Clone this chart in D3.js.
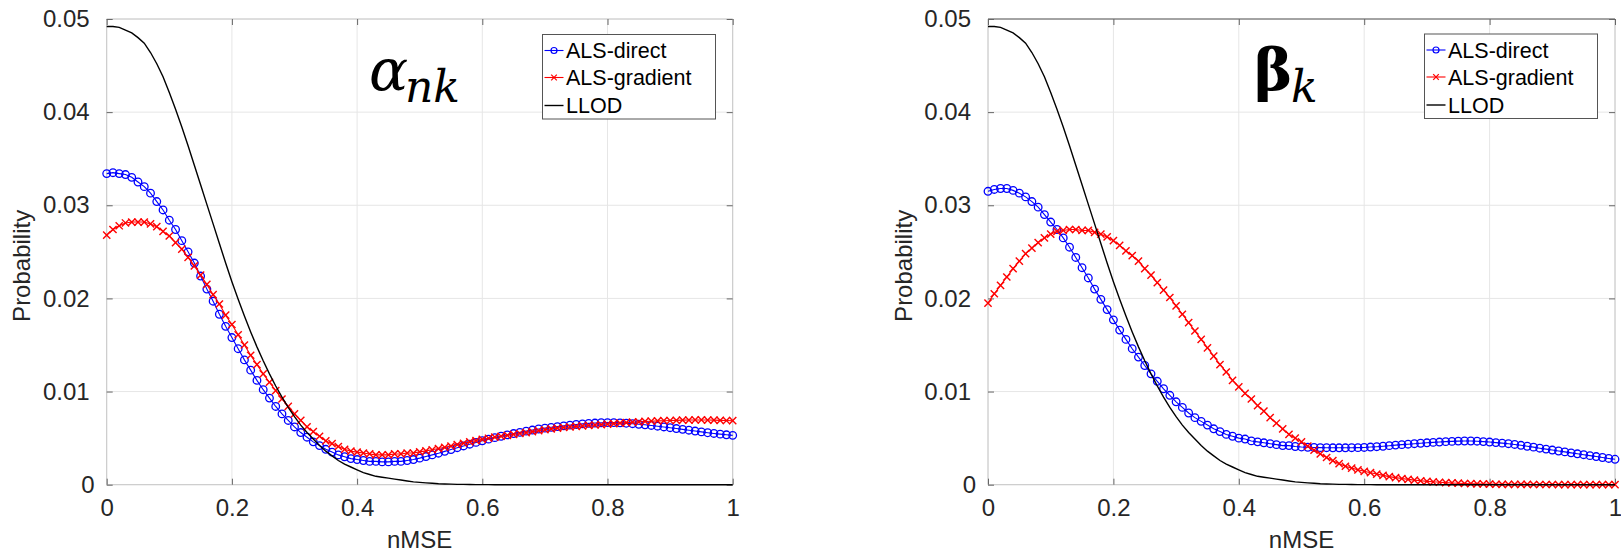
<!DOCTYPE html>
<html><head><meta charset="utf-8">
<script src="https://cdn.jsdelivr.net/npm/d3@7"></script>
<style>body{margin:0;background:#fff}svg{display:block}</style>
</head><body><svg id="c" width="1621" height="553"></svg>
<script>
const nmse = [0,0.01,0.02,0.03,0.04,0.05,0.06,0.07,0.08,0.09,
0.10,0.11,0.12,0.13,0.14,0.15,0.16,0.17,0.18,0.19,
0.20,0.21,0.22,0.23,0.24,0.25,0.26,0.27,0.28,0.29,
0.30,0.31,0.32,0.33,0.34,0.35,0.36,0.37,0.38,0.39,
0.40,0.41,0.42,0.43,0.44,0.45,0.46,0.47,0.48,0.49,
0.50,0.51,0.52,0.53,0.54,0.55,0.56,0.57,0.58,0.59,
0.60,0.61,0.62,0.63,0.64,0.65,0.66,0.67,0.68,0.69,
0.70,0.71,0.72,0.73,0.74,0.75,0.76,0.77,0.78,0.79,
0.80,0.81,0.82,0.83,0.84,0.85,0.86,0.87,0.88,0.89,
0.90,0.91,0.92,0.93,0.94,0.95,0.96,0.97,0.98,0.99,1.00];

const alphaDirect = [0.0334,0.0335,0.0334,0.0333,0.0330,0.0325,0.0320,0.0313,0.0304,0.0295,
0.0284,0.0274,0.0262,0.0250,0.0238,0.0224,0.0210,0.0197,0.0183,0.0170,
0.0158,0.0146,0.0134,0.0123,0.0112,0.0102,0.0093,0.0084,0.0076,0.0069,
0.0062,0.0056,0.0051,0.0046,0.0042,0.0038,0.0035,0.0032,0.0030,0.0028,
0.0027,0.0026,0.0025,0.0025,0.00245,0.00245,0.0025,0.0025,0.0026,0.0027,
0.00285,0.00302,0.0032,0.00338,0.00358,0.00378,0.00397,0.00416,0.00435,0.00454,
0.00472,0.00489,0.00505,0.0052,0.00535,0.00549,0.00562,0.00575,0.00587,0.00598,
0.00607,0.00616,0.00624,0.00632,0.0064,0.00647,0.00653,0.00658,0.00662,0.00665,
0.00666,0.00666,0.00664,0.0066,0.00655,0.00649,0.00643,0.00636,0.00628,0.0062,
0.00612,0.00603,0.00594,0.00585,0.00576,0.00567,0.00558,0.0055,0.00543,0.00536,0.0053];

const alphaGradient = [0.0268,0.0274,0.0278,0.0281,0.0282,0.0282,0.0282,0.0280,0.0277,0.0272,
0.0267,0.0260,0.0253,0.0244,0.0235,0.0225,0.0215,0.0204,0.0194,0.0182,
0.0172,0.0161,0.0150,0.0139,0.0129,0.0119,0.0110,0.0101,0.0092,0.0084,
0.0076,0.0069,0.0062,0.0057,0.0052,0.0047,0.0044,0.0041,0.0038,0.0036,
0.0035,0.0034,0.0033,0.0032,0.0032,0.0032,0.0033,0.0033,0.0034,0.0034,
0.00352,0.00363,0.00375,0.00388,0.00401,0.00415,0.0043,0.00445,0.0046,0.00474,
0.00487,0.00499,0.0051,0.0052,0.0053,0.0054,0.0055,0.0056,0.0057,0.0058,
0.0059,0.00599,0.00607,0.00614,0.0062,0.00626,0.00631,0.00636,0.00641,0.00646,
0.00651,0.00656,0.00661,0.00666,0.00671,0.00675,0.00679,0.00682,0.00685,0.00687,
0.00689,0.00691,0.00693,0.00694,0.00695,0.00695,0.00694,0.00693,0.00691,0.00689,0.00687];

const alphaLLOD = [0.0492,0.0492,0.0491,0.0488,0.0485,0.0480,0.0474,0.0464,0.0452,0.0438,
0.0421,0.0403,0.0384,0.0364,0.0343,0.0322,0.0301,0.0280,0.0259,0.0238,
0.0218,0.0199,0.0181,0.0164,0.0148,0.0133,0.0119,0.0106,0.0094,0.0083,
0.0073,0.0064,0.0056,0.0049,0.0042,0.0036,0.0031,0.0026,0.0022,0.0019,
0.0016,0.0013,0.0011,0.0009,0.0008,0.0007,0.0006,0.0005,0.0004,0.0003,
0.00025,0.0002,0.00015,0.0001,0.00008,0.00006,0.00004,0.00003,0.00002,0.00001,
0.00001,0.00001,0,0,0,0,0,0,0,0,
0,0,0,0,0,0,0,0,0,0,
0,0,0,0,0,0,0,0,0,0,
0,0,0,0,0,0,0,0,0,0,0];

const betaDirect = [0.0315,0.0317,0.0318,0.0318,0.0316,0.0313,0.0309,0.0304,0.0298,0.0290,
0.0282,0.0274,0.0265,0.0255,0.0244,0.0233,0.0222,0.0210,0.0199,0.0188,
0.0177,0.0166,0.0156,0.0146,0.0137,0.0128,0.0119,0.0111,0.0103,0.0096,
0.0089,0.0083,0.0077,0.0072,0.0068,0.0064,0.0060,0.0057,0.0054,0.0052,
0.0050,0.0049,0.0047,0.0046,0.0045,0.0044,0.0043,0.0042,0.0042,0.0041,
0.00405,0.00402,0.004,0.00398,0.00397,0.00396,0.00396,0.00396,0.00397,0.00398,
0.004,0.00404,0.00408,0.00413,0.00419,0.00425,0.0043,0.00435,0.0044,0.00445,
0.0045,0.00454,0.00458,0.00462,0.00465,0.00468,0.00469,0.00469,0.00467,0.00463,
0.00458,0.00452,0.00446,0.0044,0.00432,0.00423,0.00413,0.00403,0.00392,0.00382,
0.00372,0.00362,0.00352,0.00342,0.00332,0.00322,0.00312,0.00302,0.00292,0.00282,0.00273];

const betaGradient = [0.0195,0.0205,0.0214,0.0223,0.0232,0.0240,0.0248,0.0254,0.0260,0.0265,
0.0269,0.0272,0.0273,0.0274,0.0274,0.0273,0.0273,0.0271,0.0269,0.0266,
0.0262,0.0257,0.0251,0.0246,0.0240,0.0232,0.0225,0.0217,0.0209,0.0201,
0.0192,0.0183,0.0174,0.0165,0.0156,0.0147,0.0138,0.0129,0.0121,0.0112,
0.0105,0.0098,0.0092,0.0085,0.0079,0.0072,0.0066,0.0060,0.0054,0.0050,
0.0046,0.00415,0.00372,0.0033,0.00292,0.00258,0.00226,0.00198,0.00178,0.0016,
0.00144,0.00129,0.00114,0.001,0.00087,0.00076,0.00066,0.00057,0.00049,0.00042,
0.00036,0.00031,0.00026,0.00022,0.00019,0.00016,0.00013,0.00011,0.00009,0.00008,
0.00006,0.00005,0.00004,0.00004,0.00003,0.00003,0.00003,0.00002,0.00002,0.00002,
0.00002,0.00001,0.00001,0.00001,0.00001,0.00001,0.00001,0.00001,0.00001,0.00001,0.00001];

const betaLLOD = [0.0492,0.0492,0.0491,0.0488,0.0485,0.0480,0.0474,0.0464,0.0452,0.0438,
0.0421,0.0403,0.0384,0.0364,0.0343,0.0322,0.0301,0.0280,0.0259,0.0238,
0.0218,0.0199,0.0181,0.0164,0.0148,0.0133,0.0119,0.0106,0.0094,0.0083,
0.0073,0.0064,0.0056,0.0049,0.0042,0.0036,0.0031,0.0026,0.0022,0.0019,
0.0016,0.0013,0.0011,0.0009,0.0008,0.0007,0.0006,0.0005,0.0004,0.0003,
0.00025,0.0002,0.00015,0.0001,0.00008,0.00006,0.00004,0.00003,0.00002,0.00001,
0.00001,0.00001,0,0,0,0,0,0,0,0,
0,0,0,0,0,0,0,0,0,0,
0,0,0,0,0,0,0,0,0,0,
0,0,0,0,0,0,0,0,0,0,0];

const seriesNames = ["ALS-direct","ALS-gradient","LLOD"];
const xTickValues = [0,0.2,0.4,0.6,0.8,1];
const xTickLabels = ["0","0.2","0.4","0.6","0.8","1"];
const yTickValues = [0,0.01,0.02,0.03,0.04,0.05];
const yTickLabels = ["0","0.01","0.02","0.03","0.04","0.05"];
const xLabelText = "nMSE";
const yLabelText = "Probability";

const FONT = "'Liberation Sans', Arial, Helvetica, sans-serif";
const SERIF = "'DejaVu Serif', serif";
const svg = d3.select("#c");

const panels = [
  {left:106.7,right:732.7,top:19,bottom:484.7,direct:alphaDirect,gradient:alphaGradient,llod:alphaLLOD,
   yLabX:30,legend:{x:542.5,y:34.5,w:173,h:84.5},topBorder:"#c8c8c8",
   title:{main:"α",sub:"nk",mainX:369,subX:405,bold:false,italic:true,mainSize:58,subSize:44}},
  {left:988,right:1615,top:19,bottom:484.7,direct:betaDirect,gradient:betaGradient,llod:betaLLOD,
   yLabX:912,legend:{x:1424.5,y:34,w:173,h:84.5},topBorder:"#555",
   title:{main:"β",sub:"k",mainX:1254,subX:1291,bold:true,italic:false,mainSize:58,subSize:44}}
];

function xMarker(sel, size){
  sel.append("line").attr("x1",-size).attr("y1",-size).attr("x2",size).attr("y2",size);
  sel.append("line").attr("x1",-size).attr("y1",size).attr("x2",size).attr("y2",-size);
}

panels.forEach(p => {
  const x = d3.scaleLinear().domain([0,1]).range([p.left,p.right]);
  const y = d3.scaleLinear().domain([0,0.05]).range([p.bottom,p.top]);
  const g = svg.append("g");

  // grid
  g.append("g").selectAll("line").data(xTickValues).join("line")
    .attr("x1",d=>x(d)).attr("x2",d=>x(d)).attr("y1",p.top).attr("y2",p.bottom)
    .attr("stroke","#e6e6e6").attr("stroke-width",1);
  g.append("g").selectAll("line").data(yTickValues).join("line")
    .attr("x1",p.left).attr("x2",p.right).attr("y1",d=>y(d)).attr("y2",d=>y(d))
    .attr("stroke","#e6e6e6").attr("stroke-width",1);

  // box
  g.append("line").attr("x1",p.left).attr("x2",p.left).attr("y1",p.top).attr("y2",p.bottom).attr("stroke","#c8c8c8");
  g.append("line").attr("x1",p.right).attr("x2",p.right).attr("y1",p.top).attr("y2",p.bottom).attr("stroke","#c8c8c8");
  g.append("line").attr("x1",p.left).attr("x2",p.right).attr("y1",p.bottom).attr("y2",p.bottom).attr("stroke","#c8c8c8");
  g.append("line").attr("x1",p.left).attr("x2",p.right).attr("y1",p.top).attr("y2",p.top).attr("stroke",p.topBorder);

  const styleAxis = (ga) => {
    ga.select(".domain").remove();
    ga.selectAll(".tick line").attr("stroke","#666").attr("stroke-width",1);
    ga.selectAll(".tick text").attr("font-family",FONT).attr("font-size",24).attr("fill","#262626");
  };
  const gb = g.append("g").attr("transform",`translate(0,${p.bottom})`)
    .call(d3.axisBottom(x).tickValues(xTickValues).tickFormat((d,i)=>xTickLabels[i]).tickSizeInner(-6).tickSizeOuter(0).tickPadding(14));
  styleAxis(gb);
  const gl = g.append("g").attr("transform",`translate(${p.left},0)`)
    .call(d3.axisLeft(y).tickValues(yTickValues).tickFormat((d,i)=>yTickLabels[i]).tickSizeInner(-6).tickSizeOuter(0).tickPadding(17));
  styleAxis(gl);
  gl.selectAll(".tick text").filter(d=>d===0).attr("dx",5);
  const gt = g.append("g").attr("transform",`translate(0,${p.top})`)
    .call(d3.axisTop(x).tickValues(xTickValues).tickFormat("").tickSizeInner(-6).tickSizeOuter(0));
  styleAxis(gt);
  const gr = g.append("g").attr("transform",`translate(${p.right},0)`)
    .call(d3.axisRight(y).tickValues(yTickValues).tickFormat("").tickSizeInner(-6).tickSizeOuter(0));
  styleAxis(gr);

  // axis labels
  g.append("text").attr("x",(p.left+p.right)/2).attr("y",548).attr("text-anchor","middle")
    .attr("font-family",FONT).attr("font-size",24).attr("fill","#262626").text(xLabelText);
  g.append("text").attr("transform",`translate(${p.yLabX},${(p.top+p.bottom)/2+14}) rotate(-90)`)
    .attr("text-anchor","middle").attr("font-family",FONT).attr("font-size",24).attr("fill","#262626").text(yLabelText);

  const line = d3.line().x((d,i)=>x(nmse[i])).y(d=>y(d));
  const plot = g.append("g");

  // ALS-direct
  plot.append("path").datum(p.direct).attr("d",line).attr("fill","none").attr("stroke","#0000ff").attr("stroke-width",1.1);
  plot.append("g").selectAll("circle").data(p.direct).join("circle")
    .attr("cx",(d,i)=>x(nmse[i])).attr("cy",d=>y(d)).attr("r",3.8)
    .attr("fill","none").attr("stroke","#0000ff").attr("stroke-width",1.3);

  // ALS-gradient
  plot.append("path").datum(p.gradient).attr("d",line).attr("fill","none").attr("stroke","#ff0000").attr("stroke-width",1.1);
  plot.append("g").selectAll("g").data(p.gradient).join("g")
    .attr("transform",(d,i)=>`translate(${x(nmse[i])},${y(d)})`)
    .attr("stroke","#ff0000").attr("stroke-width",1.4)
    .each(function(){ xMarker(d3.select(this),3.6); });

  // LLOD
  plot.append("path").datum(p.llod).attr("d",line).attr("fill","none").attr("stroke","#000").attr("stroke-width",1.4);

  // legend
  const L = p.legend;
  const lg = g.append("g");
  lg.append("rect").attr("x",L.x).attr("y",L.y).attr("width",L.w).attr("height",L.h)
    .attr("fill","#fff").attr("stroke","#555").attr("stroke-width",1);
  const rowY = [L.y+16, L.y+43, L.y+71];
  const colors = ["#0000ff","#ff0000","#000"];
  seriesNames.forEach((name,k)=>{
    const ry = rowY[k];
    lg.append("line").attr("x1",L.x+2).attr("x2",L.x+21).attr("y1",ry).attr("y2",ry)
      .attr("stroke",colors[k]).attr("stroke-width",k===2?1.4:1.1);
    if(k===0){
      lg.append("circle").attr("cx",L.x+11.5).attr("cy",ry).attr("r",3).attr("fill","none").attr("stroke",colors[k]).attr("stroke-width",1.2);
    } else if(k===1){
      const mg = lg.append("g").attr("transform",`translate(${L.x+11.5},${ry})`).attr("stroke",colors[k]).attr("stroke-width",1.2);
      xMarker(mg,2.8);
    }
    lg.append("text").attr("x",L.x+23.5).attr("y",ry+7.5).attr("font-family",FONT).attr("font-size",21.5)
      .attr("fill","#000").text(name);
  });

  // title annotation
  const T = p.title;
  g.append("text").attr("x",T.mainX).attr("y",89.5).attr("font-family",SERIF)
    .attr("font-style",T.italic?"italic":"normal").attr("font-weight",T.bold?"bold":"normal")
    .attr("font-size",T.mainSize).attr("fill","#000").text(T.main);
  g.append("text").attr("x",T.subX).attr("y",101.7).attr("font-family",SERIF)
    .attr("font-style","italic").attr("font-size",T.subSize).attr("fill","#000").text(T.sub);
});
</script>
</body></html>
